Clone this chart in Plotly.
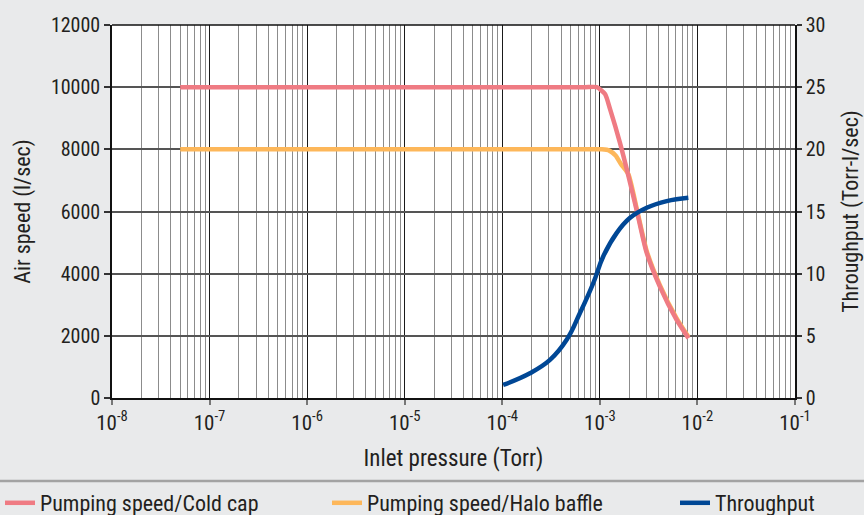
import plotly.graph_objects as go

# ---- data ----
cold_p = [5e-8, 1e-6, 1e-4, 7e-4, 9.3e-4, 1.13e-3, 1.27e-3, 1.61e-3, 1.96e-3, 2.4e-3, 3.0e-3, 4.1e-3, 6.1e-3, 8.1e-3]
cold_s = [10000, 10000, 10000, 10000, 10000, 9780, 9300, 8200, 7150, 6000, 4700, 3600, 2520, 1920]

halo_p = [5e-8, 1e-6, 1e-4, 8e-4, 1.05e-3, 1.25e-3, 1.45e-3, 1.65e-3, 1.96e-3, 2.4e-3, 3.0e-3, 4.1e-3, 6.1e-3, 8.1e-3]
halo_s = [8000, 8000, 8000, 8000, 8000, 7960, 7800, 7520, 7200, 6060, 4760, 3650, 2570, 1960]

thr_p = [1.02e-4, 1.92e-4, 3.08e-4, 4.57e-4, 6.25e-4, 8.57e-4, 1.085e-3, 1.49e-3, 2.04e-3, 3.02e-3, 4.84e-3, 8.07e-3]
thr_q = [1.05, 1.99, 3.06, 4.68, 6.83, 9.25, 11.4, 13.28, 14.49, 15.3, 15.83, 16.1]

x_tickvals = [1e-8, 1e-7, 1e-6, 1e-5, 1e-4, 1e-3, 1e-2, 1e-1]
x_ticktext = ["10<sup>-8</sup>", "10<sup>-7</sup>", "10<sup>-6</sup>", "10<sup>-5</sup>",
              "10<sup>-4</sup>", "10<sup>-3</sup>", "10<sup>-2</sup>", "10<sup>-1</sup>"]

names = ["Pumping speed/Cold cap", "Pumping speed/Halo baffle", "Throughput"]
colors = ["#ef7b83", "#fdb75a", "#004795"]

FONT = "Liberation Sans Narrow, Arial Narrow, Roboto Condensed, sans-serif"
TXT = "#231f20"
BG = "#e9eaeb"

fig = go.Figure()
fig.add_trace(go.Scatter(x=thr_p, y=thr_q, mode="lines", name=names[2], yaxis="y2",
                         line=dict(color=colors[2], width=4.5, shape="spline", smoothing=1.2),
                         legend="legend3", showlegend=True))
fig.add_trace(go.Scatter(x=halo_p, y=halo_s, mode="lines", name=names[1],
                         line=dict(color=colors[1], width=4.5, shape="spline", smoothing=0.6),
                         legend="legend2", showlegend=True))
fig.add_trace(go.Scatter(x=cold_p, y=cold_s, mode="lines", name=names[0],
                         line=dict(color=colors[0], width=4.5, shape="spline", smoothing=0.6),
                         legend="legend", showlegend=True))

leg_common = dict(orientation="h", xref="container", yref="container", yanchor="middle", y=0.0233,
                  xanchor="left", bgcolor="rgba(0,0,0,0)",
                  font=dict(family=FONT, size=22, color=TXT))

fig.update_layout(
    width=864, height=515,
    showlegend=True,
    margin=dict(l=112, r=69, t=25, b=117, autoexpand=False),
    paper_bgcolor=BG,
    plot_bgcolor="#ffffff",
    font=dict(family=FONT, size=20, color=TXT),
    xaxis=dict(type="log", range=[-8, -1], tickvals=x_tickvals, ticktext=x_ticktext,
               showgrid=True, gridcolor="#1a1a1a", gridwidth=1.2,
               minor=dict(dtick="D1", showgrid=True, gridcolor="#8c8c8c", gridwidth=1.2, ticks=""),
               showline=True, linecolor="#111111", linewidth=1.5, mirror=False,
               ticks="outside", ticklen=5, tickcolor="#777777", tickwidth=1.5,
               tickfont=dict(size=21),
               title=dict(text="Inlet pressure (Torr)", standoff=16, font=dict(size=23)),
               zeroline=False, automargin=False),
    yaxis=dict(range=[0, 12000], dtick=2000, tickformat="d", showgrid=True, gridcolor="#555555", gridwidth=1.5,
               showline=True, linecolor="#111111", linewidth=1.5,
               ticks="outside", ticklen=6, tickcolor="#333333", tickwidth=1.5,
               title=dict(text="Air speed (l/sec)", standoff=14, font=dict(size=22)),
               zeroline=False, automargin=False),
    yaxis2=dict(range=[0, 30], dtick=5, overlaying="y", side="right", showgrid=False,
                showline=True, linecolor="#111111", linewidth=1.5,
                ticks="outside", ticklen=5, tickcolor="#333333", tickwidth=1.5,
                title=dict(text="Throughput (Torr-l/sec)", standoff=20, font=dict(size=22)),
                zeroline=False, automargin=False),
    legend=dict(leg_common, x=-0.008),
    legend2=dict(leg_common, x=0.3785),
    legend3=dict(leg_common, x=0.78125),
    shapes=[dict(type="line", xref="paper", yref="paper", x0=-0.2, x1=1.2, y0=-0.2225, y1=-0.2225,
                 line=dict(color="#a3a3a3", width=2.5)),
            dict(type="line", xref="paper", yref="paper", x0=0, x1=1, y0=1, y1=1,
                 line=dict(color="#111111", width=1.5))],
)

fig.write_html("out.html", config={"displayModeBar": False},
               post_script="document.body.style.margin='0';document.body.style.background='%s';" % BG)
